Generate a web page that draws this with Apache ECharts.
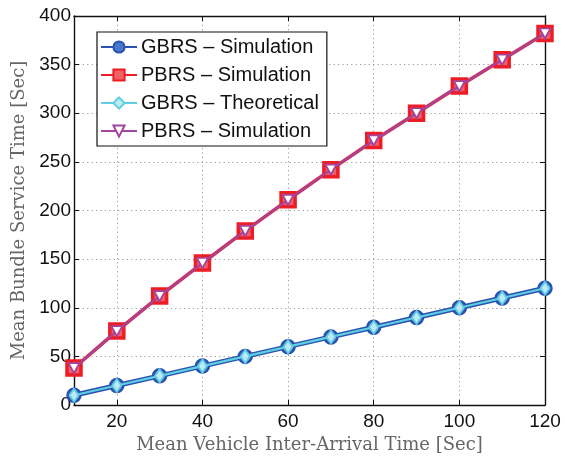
<!DOCTYPE html>
<html>
<head>
<meta charset="utf-8">
<script src="https://cdn.jsdelivr.net/npm/echarts@6/dist/echarts.min.js"></script>
<style>
  html, body { margin: 0; padding: 0; background: #fff; }
  #chart { width: 565px; height: 459px; }
</style>
</head>
<body>
<div id="chart"></div>
<script>
// Mean vehicle inter-arrival time (seconds)
const arrivalTimes = [10, 20, 30, 40, 50, 60, 70, 80, 90, 100, 110, 120];
// Mean bundle service time (seconds) per scheme
const gbrsSimulation = [10, 20, 30, 40, 50, 60, 70, 80, 90, 100, 110, 120];
const pbrsSimulation = [38, 76, 112, 146, 179, 211, 242, 272, 300, 328, 355, 382];
const gbrsTheoretical = [10, 20, 30, 40, 50, 60, 70, 80, 90, 100, 110, 120];
const pbrsSimulation2 = [38, 76, 112, 146, 179, 211, 242, 272, 300, 328, 355, 382];
// Axis tick labels
const xTicks = [20, 40, 60, 80, 100, 120];
const yTicks = [0, 50, 100, 150, 200, 250, 300, 350, 400];

const pairs = ys => arrivalTimes.map((x, i) => [x, ys[i]]);

const chart = echarts.init(document.getElementById('chart'), null, { renderer: 'canvas' });

const tickFont = { fontFamily: '"Liberation Sans", Arial, sans-serif', fontSize: 19, color: '#111' };
const gridLine = { show: true, lineStyle: { color: '#999', type: [1.2, 3.2], width: 1 } };
const frame = { show: true, onZero: false, lineStyle: { color: '#111', width: 1.4 } };

chart.setOption({
  animation: false,
  backgroundColor: '#fff',
  grid: { left: 74, right: 20, top: 16, bottom: 54, containLabel: false },
  legend: {
    left: 97, top: 32,
    orient: 'vertical',
    backgroundColor: '#fff',
    borderColor: '#111',
    borderWidth: 1.2,
    borderRadius: 0,
    padding: [5, 8, 5, 3],
    itemGap: 8,
    itemWidth: 36,
    itemHeight: 14,
    textStyle: { fontFamily: '"Liberation Sans", Arial, sans-serif', fontSize: 20, color: '#111', padding: [0, 0, 0, -1] },
    data: ['GBRS \u2013 Simulation', 'PBRS \u2013 Simulation', 'GBRS \u2013 Theoretical', 'PBRS \u2013 Simulation ']
  },
  xAxis: [{
    type: 'value', min: 10, max: 120,
    position: 'bottom',
    name: 'Mean Vehicle Inter-Arrival Time [Sec]',
    nameLocation: 'middle', nameGap: 26,
    nameTextStyle: { fontFamily: '"DejaVu Serif", serif', fontSize: 18, color: '#666' },
    axisLine: frame,
    axisTick: { show: true, inside: true, length: 5, customValues: xTicks, lineStyle: { color: '#111' } },
    axisLabel: { ...tickFont, margin: 7, customValues: xTicks },
    splitLine: gridLine
  }, {
    type: 'value', min: 10, max: 120,
    position: 'top',
    axisLine: frame,
    axisTick: { show: true, inside: true, length: 5, customValues: xTicks, lineStyle: { color: '#111' } },
    axisLabel: { show: false },
    splitLine: { show: false }
  }],
  yAxis: [{
    type: 'value', min: 0, max: 400, interval: 50,
    position: 'left',
    name: 'Mean Bundle Service Time [Sec]',
    nameLocation: 'middle', nameGap: 44,
    nameTextStyle: { fontFamily: '"DejaVu Serif", serif', fontSize: 18, color: '#666' },
    axisLine: frame,
    axisTick: { show: true, inside: true, length: 5, lineStyle: { color: '#111' } },
    axisLabel: { ...tickFont, margin: 3, customValues: yTicks },
    splitLine: gridLine
  }, {
    type: 'value', min: 0, max: 400, interval: 50,
    position: 'right',
    axisLine: frame,
    axisTick: { show: true, inside: true, length: 5, lineStyle: { color: '#111' } },
    axisLabel: { show: false },
    splitLine: { show: false }
  }],
  series: [{
    name: 'GBRS \u2013 Simulation',
    type: 'line',
    data: pairs(gbrsSimulation),
    clip: false,
    symbol: 'circle', symbolSize: 13,
    lineStyle: { color: '#2b52b0', width: 5 },
    itemStyle: { color: '#4a78c8', borderColor: '#2b52b0', borderWidth: 2.5 },
    z: 2
  }, {
    name: 'PBRS \u2013 Simulation',
    type: 'line',
    data: pairs(pbrsSimulation),
    clip: false,
    symbol: 'rect', symbolSize: 14,
    lineStyle: { color: '#ee1c25', width: 3.5 },
    itemStyle: { color: '#f26066', borderColor: '#ee1c25', borderWidth: 3.5 },
    z: 3
  }, {
    name: 'GBRS \u2013 Theoretical',
    type: 'line',
    data: pairs(gbrsTheoretical),
    clip: false,
    symbol: 'diamond', symbolSize: [9, 13],
    lineStyle: { color: '#5fcfe2', width: 2.2 },
    itemStyle: { color: '#bfe9f2', borderColor: '#5fcfe2', borderWidth: 1.8 },
    z: 4
  }, {
    name: 'PBRS \u2013 Simulation ',
    type: 'line',
    data: pairs(pbrsSimulation2),
    clip: false,
    symbol: 'triangle', symbolRotate: 180, symbolSize: [11, 10],
    lineStyle: { color: '#a3449f', width: 2.2 },
    itemStyle: { color: '#fff', borderColor: '#a3449f', borderWidth: 1.8 },
    z: 5
  }]
});
</script>
</body>
</html>
